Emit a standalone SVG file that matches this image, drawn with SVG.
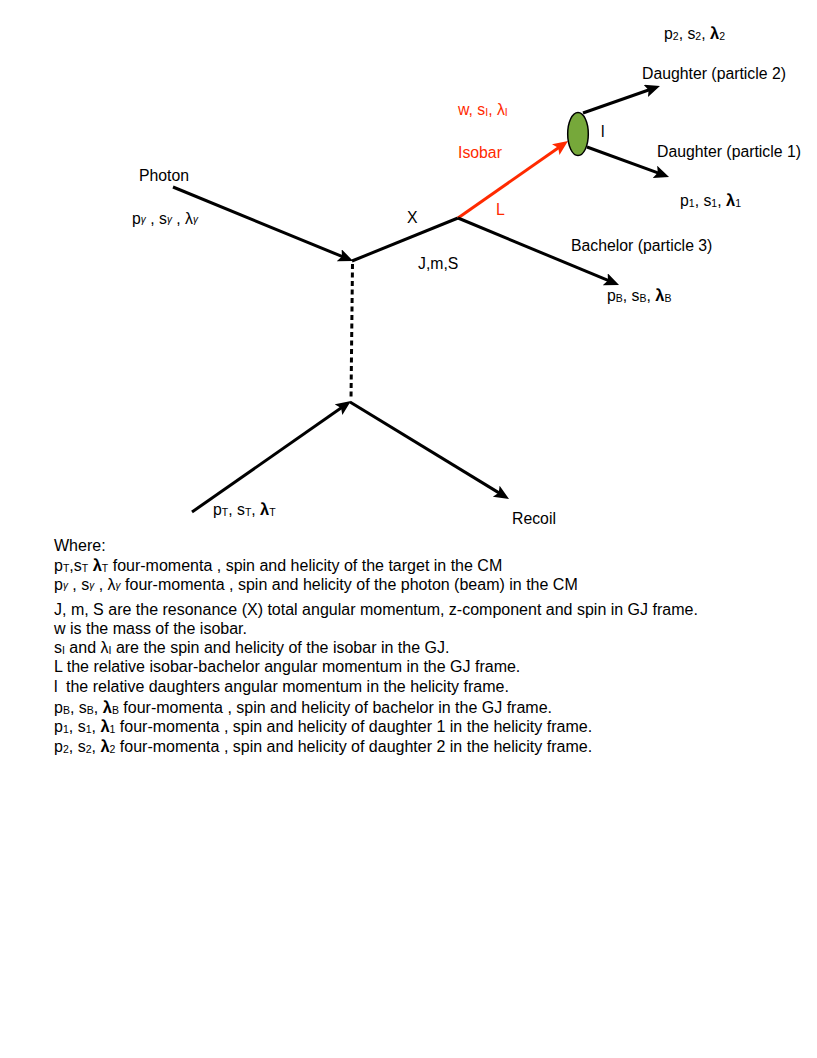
<svg xmlns="http://www.w3.org/2000/svg" width="817" height="1058" viewBox="0 0 817 1058">
<style>
text{font-family:"Liberation Sans",Arial,sans-serif;font-size:15.8px;fill:#000}
#legend text{font-size:16px}
.red{fill:#ff2a00}
.sub{font-size:10.5px}
#legend .sub{font-size:10.5px}
.g{font-size:10px;font-style:italic}
#legend .g{font-size:10px}
.lb{font-weight:bold;font-size:16.5px}
#legend .lb{font-size:16.5px}
.ln{stroke:#000;stroke-width:3;fill:none}
.rl{stroke:#ff2a00;stroke-width:3;fill:none}
</style>
<defs>
<marker id="ah" markerUnits="userSpaceOnUse" markerWidth="17" markerHeight="14" refX="9" refY="6.5" orient="auto">
<path d="M0,0 L15,6.5 L0,13 L3,6.5 z" fill="#000"/>
</marker>
<marker id="ahr" markerUnits="userSpaceOnUse" markerWidth="17" markerHeight="14" refX="9" refY="6.5" orient="auto">
<path d="M0,0 L15,6.5 L0,13 L3,6.5 z" fill="#ff2a00"/>
</marker>
</defs>
<rect width="817" height="1058" fill="#fff"/>
<g id="connectors">
<line class="ln" x1="173" y1="187" x2="347.5" y2="258.7" marker-end="url(#ah)"/>
<line class="ln" x1="352" y1="261" x2="458" y2="218"/>
<line class="rl" x1="458" y1="218" x2="563.1" y2="144.4" marker-end="url(#ahr)"/>
<line class="ln" x1="583" y1="113" x2="654.3" y2="88" marker-end="url(#ah)"/>
<line class="ln" x1="587" y1="147" x2="663.4" y2="174.9" marker-end="url(#ah)"/>
<line class="ln" x1="458" y1="218" x2="613.5" y2="282.7" marker-end="url(#ah)"/>
<line class="ln" x1="352.5" y1="264" x2="351" y2="400" stroke-dasharray="5,3.5"/>
<line class="ln" x1="192" y1="512" x2="346" y2="404.5" marker-end="url(#ah)"/>
<line class="ln" x1="350" y1="402" x2="503.9" y2="495.9" marker-end="url(#ah)"/>
</g>
<g id="isobar-vertex">
<ellipse cx="578" cy="134" rx="10.3" ry="21.5" fill="#76a83a" stroke="#000" stroke-width="1.5"/>
</g>
<g id="labels">
<text x="664" y="39">p<tspan class="sub" dy="1">2</tspan><tspan dy="-1">, s</tspan><tspan class="sub" dy="1">2</tspan><tspan dy="-1">, </tspan><tspan class="lb">λ</tspan><tspan class="sub" dy="1">2</tspan></text>
<text x="642" y="79">Daughter (particle 2)</text>
<text class="red" x="458" y="115">w, s<tspan class="sub" dy="1">I</tspan><tspan dy="-1">, λ</tspan><tspan class="sub" dy="1">I</tspan></text>
<text x="601" y="137">l</text>
<text class="red" x="458" y="158">Isobar</text>
<text x="657" y="157">Daughter (particle 1)</text>
<text x="139" y="181">Photon</text>
<text x="132" y="224">p<tspan class="g" dy="-1">γ</tspan><tspan dy="1"> , s</tspan><tspan class="g" dy="-1">γ</tspan><tspan dy="1"> , λ</tspan><tspan class="g" dy="-1">γ</tspan></text>
<text x="407" y="223">X</text>
<text class="red" x="496" y="215">L</text>
<text x="680" y="206">p<tspan class="sub" dy="1">1</tspan><tspan dy="-1">, s</tspan><tspan class="sub" dy="1">1</tspan><tspan dy="-1">, </tspan><tspan class="lb">λ</tspan><tspan class="sub" dy="1">1</tspan></text>
<text x="571" y="251">Bachelor (particle 3)</text>
<text x="418" y="269">J,m,S</text>
<text x="607" y="301">p<tspan class="sub" dy="1">B</tspan><tspan dy="-1">, s</tspan><tspan class="sub" dy="1">B</tspan><tspan dy="-1">, </tspan><tspan class="lb">λ</tspan><tspan class="sub" dy="1">B</tspan></text>
<text x="213" y="515">p<tspan class="sub" dy="1">T</tspan><tspan dy="-1">, s</tspan><tspan class="sub" dy="1">T</tspan><tspan dy="-1">, </tspan><tspan class="lb">λ</tspan><tspan class="sub" dy="1">T</tspan></text>
<text x="512" y="524">Recoil</text>
</g>
<g id="legend">
<text x="54" y="551">Where:</text>
<text x="54" y="571">p<tspan class="sub" dy="1">T</tspan><tspan dy="-1">,s</tspan><tspan class="sub" dy="1">T</tspan><tspan dy="-1"> </tspan><tspan class="lb">λ</tspan><tspan class="sub" dy="1">T</tspan><tspan dy="-1"> four-momenta , spin and helicity of the target in the CM</tspan></text>
<text x="54" y="590">p<tspan class="g" dy="-1">γ</tspan><tspan dy="1"> , s</tspan><tspan class="g" dy="-1">γ</tspan><tspan dy="1"> , λ</tspan><tspan class="g" dy="-1">γ</tspan><tspan dy="1"> four-momenta , spin and helicity of the photon (beam) in the CM</tspan></text>
<text x="54" y="615">J, m, S are the resonance (X) total angular momentum, z-component and spin in GJ frame.</text>
<text x="54" y="634">w is the mass of the isobar.</text>
<text x="54" y="653">s<tspan class="sub" dy="1">I</tspan><tspan dy="-1"> and λ</tspan><tspan class="sub" dy="1">I</tspan><tspan dy="-1"> are the spin and helicity of the isobar in the GJ.</tspan></text>
<text x="54" y="672">L the relative isobar-bachelor angular momentum in the GJ frame.</text>
<text x="54" y="692">l<tspan dx="4"> the relative daughters angular momentum in the helicity frame.</tspan></text>
<text x="54" y="713">p<tspan class="sub" dy="1">B</tspan><tspan dy="-1">, s</tspan><tspan class="sub" dy="1">B</tspan><tspan dy="-1">, </tspan><tspan class="lb">λ</tspan><tspan class="sub" dy="1">B</tspan><tspan dy="-1"> four-momenta , spin and helicity of bachelor in the GJ frame.</tspan></text>
<text x="54" y="732">p<tspan class="sub" dy="1">1</tspan><tspan dy="-1">, s</tspan><tspan class="sub" dy="1">1</tspan><tspan dy="-1">, </tspan><tspan class="lb">λ</tspan><tspan class="sub" dy="1">1</tspan><tspan dy="-1"> four-momenta , spin and helicity of daughter 1 in the helicity frame.</tspan></text>
<text x="54" y="752">p<tspan class="sub" dy="1">2</tspan><tspan dy="-1">, s</tspan><tspan class="sub" dy="1">2</tspan><tspan dy="-1">, </tspan><tspan class="lb">λ</tspan><tspan class="sub" dy="1">2</tspan><tspan dy="-1"> four-momenta , spin and helicity of daughter 2 in the helicity frame.</tspan></text>
</g>
</svg>
